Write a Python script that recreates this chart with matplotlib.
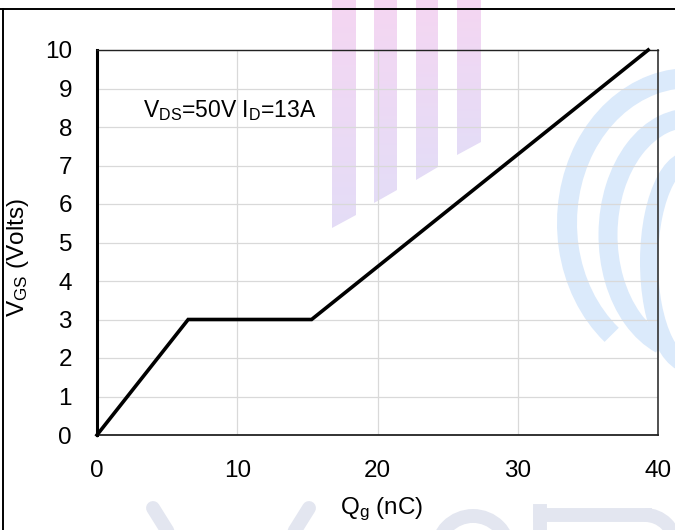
import matplotlib
matplotlib.use("Agg")
import matplotlib.pyplot as plt
import numpy as np
from matplotlib.patches import Arc, Polygon

# Gate charge curve
qg_nc = [0, 6.5, 15.3, 39.3]
vgs_v = [0, 3.0, 3.0, 10.0]

x_ticks = [0, 10, 20, 30, 40]
y_ticks = list(range(0, 11))
note = r"V$_{\mathrm{DS}}$=50V I$_{\mathrm{D}}$=13A"

plt.rcParams["font.family"] = ["Liberation Sans", "DejaVu Sans"]
plt.rcParams["mathtext.fontset"] = "custom"
plt.rcParams["mathtext.rm"] = "Liberation Sans"
plt.rcParams["mathtext.it"] = "Liberation Sans:italic"

W, H = 675, 530
fig = plt.figure(figsize=(W / 100, H / 100), dpi=100, facecolor="white")

# Background layer in pixel coordinates: watermark + page frame
bg = fig.add_axes([0, 0, 1, 1], zorder=0)
bg.set_xlim(0, W)
bg.set_ylim(H, 0)
bg.axis("off")

top_c = np.array([245, 214, 242]) / 255
bot_c = np.array([228, 221, 247]) / 255
grad = np.linspace(0, 1, 200)[:, None, None]
grad = top_c * (1 - grad) + bot_c * grad
bars = [(332, 356, 228, 215), (374, 397, 203, 190), (416, 438, 180, 167), (457, 481, 155, 142)]
for x0, x1, yl, yr in bars:
    poly = Polygon([(x0, 0), (x1, 0), (x1, yr), (x0, yl)], closed=True, fc="none", ec="none")
    bg.add_patch(poly)
    im = bg.imshow(grad, extent=(x0, x1, yl, 0), origin="upper", aspect="auto", zorder=1)
    im.set_clip_path(poly)

blue = "#dbeafb"
bands = [((690, 223), 123, 145, 125, 290, 20), ((690, 235), 82, 117, 105, 290, 19), ((690, 262), 41, 102, 95, 290, 18)]
for (cx, cy), rx, ry, t1, t2, wpx in bands:
    bg.add_patch(Arc((cx, cy), 2 * rx, 2 * ry, theta1=t1, theta2=t2, color=blue, lw=wpx * 0.72, zorder=1))

grey = "#e3e6f0"
bg.plot([153, 178], [508, 548], color=grey, lw=10, solid_capstyle="round", zorder=1)
bg.plot([309, 284], [508, 548], color=grey, lw=10, solid_capstyle="round", zorder=1)
bg.add_patch(Arc((473, 552), 72, 72, theta1=180, theta2=360, color=grey, lw=10, zorder=1))
bg.plot([540, 645], [515, 515], color=grey, lw=10, zorder=1)
bg.plot([540, 540], [511, 535], color=grey, lw=10, zorder=1)
bg.add_patch(Arc((645, 545), 60, 60, theta1=270, theta2=360, color=grey, lw=10, zorder=1))

bg.plot([0, W], [9, 9], color="black", lw=1.4, zorder=3)
bg.plot([3, 3], [9, H], color="black", lw=1.4, zorder=3)

# Main chart
ax = fig.add_axes([97 / W, 1 - 435 / H, 561 / W, 385 / H], zorder=1)
ax.set_facecolor("none")
ax.plot(qg_nc, vgs_v, color="black", lw=2.6, solid_joinstyle="miter", zorder=3, clip_on=False)

ax.set_xlim(0, 40)
ax.set_ylim(0, 10)
ax.set_xticks(x_ticks)
ax.set_yticks(y_ticks)
ax.tick_params(length=0, pad=18, labelsize=17.5, colors="black")
ax.grid(True, color="#d9d9d9", lw=0.9)
ax.set_axisbelow(True)

for side, lw, col in [("left", 2.2, "black"), ("bottom", 1.3, "#222222"), ("top", 1.0, "#222222"), ("right", 1.2, "#333333")]:
    ax.spines[side].set_linewidth(lw)
    ax.spines[side].set_color(col)

ax.set_xlabel(r"Q$_{\mathrm{g}}$ (nC)", fontsize=17.5)
ax.set_ylabel(r"V$_{\mathrm{GS}}$ (Volts)", fontsize=17.5)
ax.xaxis.set_label_coords(0.507, -0.158)
ax.yaxis.set_label_coords(-0.118, 0.462)

ax.text(3.3, 8.44, note, fontsize=16.5, ha="left", va="center")

fig.savefig("out.png", dpi=100, facecolor="white")
